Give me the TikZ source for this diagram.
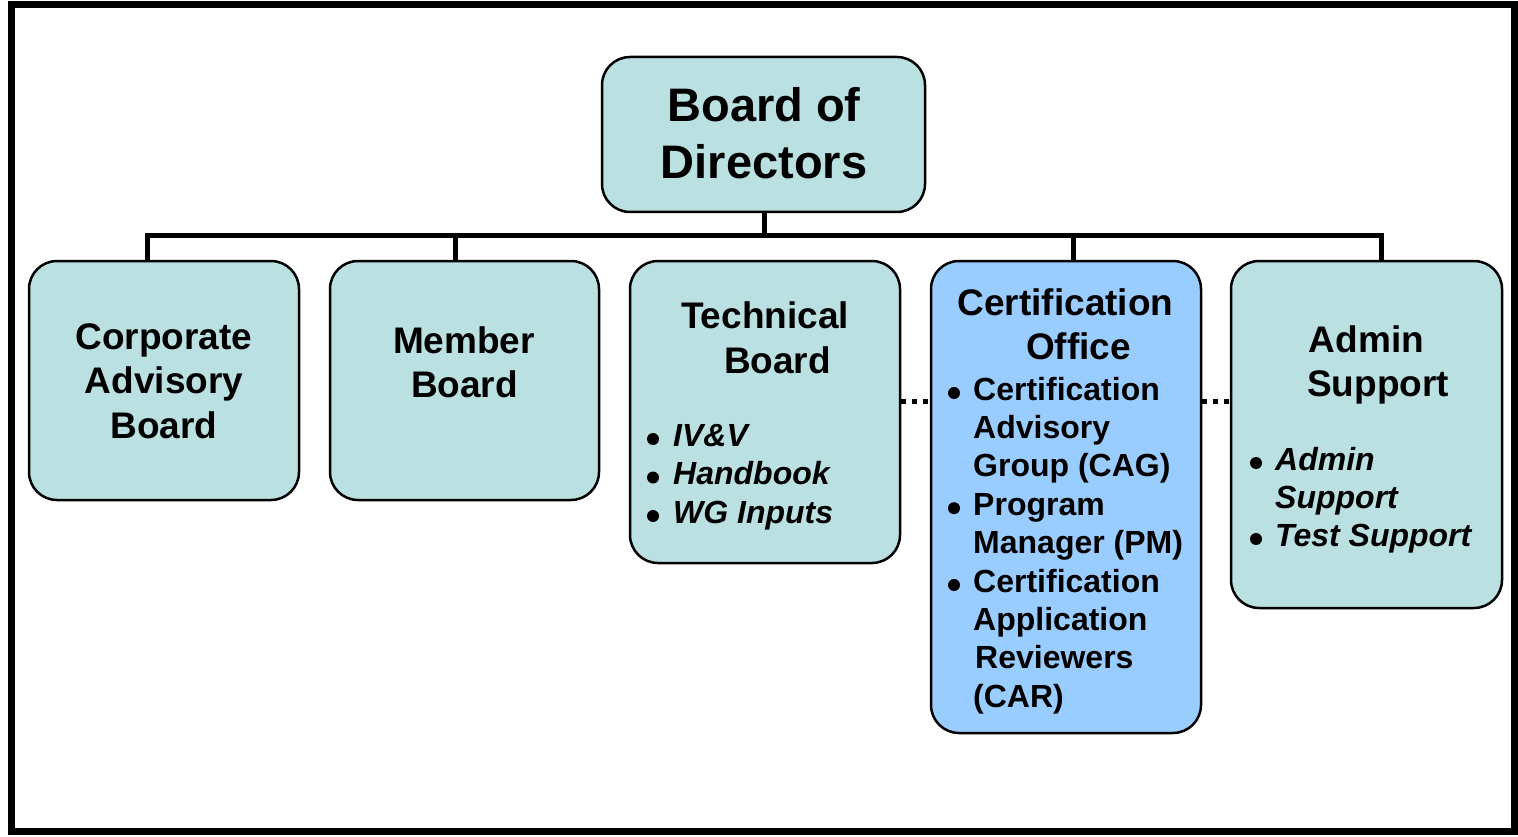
\documentclass[tikz,border=0pt]{standalone}
\usepackage{fontspec}
\setmainfont{Liberation Sans}
\definecolor{tealfill}{RGB}{186,224,226}
\definecolor{bluefill}{RGB}{153,204,255}
\tikzset{
 box/.style={draw=black, line width=2.5pt, rounded corners=28pt, inner sep=0pt, fill=tealfill},
 conn/.style={line width=5pt, line join=miter},
 dotconn/.style={line width=5pt, dash pattern=on 5pt off 6pt},
 big/.style={font=\fontsize{47pt}{57pt}\selectfont\bfseries, anchor=base, inner sep=0pt},
 ttl/.style={font=\fontsize{37pt}{44pt}\selectfont\bfseries, anchor=base, inner sep=0pt},
 itm/.style={font=\fontsize{32pt}{38pt}\selectfont\bfseries, anchor=base west, inner sep=0pt},
 itmi/.style={font=\fontsize{32pt}{38pt}\selectfont\bfseries\itshape, anchor=base west, inner sep=0pt},
 bullet/.style={fill=black},
}
\begin{document}
\begin{tikzpicture}[x=1pt,y=-1pt]
\useasboundingbox (0,0) rectangle (1518,837);
% outer frame
\draw[line width=7pt] (11.5,4.5) rectangle (1514.5,831.5);

% boxes
\node[box, minimum width=323pt, minimum height=155pt] (bod) at (763.5,134.5) {};
\node[box, minimum width=270pt, minimum height=239pt] (cab) at (164,380.5) {};
\node[box, minimum width=269pt, minimum height=239pt] (mb) at (464.5,380.5) {};
\node[box, minimum width=270pt, minimum height=302pt] (tb) at (765,412) {};
\node[box, fill=bluefill, minimum width=270pt, minimum height=472pt] (co) at (1066,497) {};
\node[box, minimum width=271pt, minimum height=347pt] (as) at (1366.5,434.5) {};

% connectors
\coordinate (d1) at (147,236);
\coordinate (d2) at (455,236);
\coordinate (d3) at (764.5,236);
\coordinate (d4) at (1073,236);
\coordinate (d5) at (1381,236);
\draw[conn] (d1 |- cab.north) -- (d1) -- (d5) -- (d5 |- as.north);
\draw[conn] (d2) -- (d2 |- mb.north);
\draw[conn] (d4) -- (d4 |- co.north);
\draw[conn] (d3 |- bod.south) -- (d3);
\coordinate (lvl) at (0,401);
\draw[dotconn] (tb.east |- lvl) -- (co.west |- lvl);
\draw[dotconn] (co.east |- lvl) -- (as.west |- lvl);

% Board of Directors
\node[big] (bod1) at (764,122) {Board of};
\node[big] (bod2) at (764,179) {Directors};

% Corporate Advisory Board
\node[ttl] (cab1) at (164,349) {Corporate};
\node[ttl] (cab2) at (164,393.5) {Advisory};
\node[ttl] (cab3) at (164,438) {Board};

% Member Board
\node[ttl] (mb1) at (464,353) {Member};
\node[ttl] (mb2) at (464.5,397) {Board};

% Technical Board
\node[ttl] (tb1) at (765,328) {Technical};
\node[ttl] (tb2) at (777.5,373) {Board};
\node[itmi] (tb3) at (673,446) {IV\&V};
\node[itmi] (tb4) at (673,484.5) {Handbook};
\node[itmi] (tb5) at (673,523) {WG Inputs};
\foreach \n in {tb3,tb4,tb5}
  \fill[bullet] ([xshift=-20pt,yshift=7pt]\n.base west) circle (6pt);

% Certification Office
\node[ttl] (co1) at (1065.5,315) {Certification};
\node[ttl] (co2) at (1078.5,359) {Office};
\node[itm] (co3) at (973,400) {Certification};
\node[itm] (co4) at (973,438.4) {Advisory};
\node[itm] (co5) at (973,476.8) {Group (CAG)};
\node[itm] (co6) at (973,515.2) {Program};
\node[itm] (co7) at (973,553.6) {Manager (PM)};
\node[itm] (co8) at (973,592) {Certification};
\node[itm] (co9) at (973,630.4) {Application};
\node[itm] (co10) at (975,668.8) {Reviewers};
\node[itm] (co11) at (973,707.2) {(CAR)};
\foreach \n in {co3,co6,co8}
  \fill[bullet] ([xshift=-19pt,yshift=7pt]\n.base west) circle (6pt);

% Admin Support
\node[ttl] (as1) at (1366.5,352) {Admin};
\node[ttl] (as2) at (1378,396) {Support};
\node[itmi] (as3) at (1275,470) {Admin};
\node[itmi] (as4) at (1275,508) {Support};
\node[itmi] (as5) at (1275,546) {Test Support};
\foreach \n in {as3,as5}
  \fill[bullet] ([xshift=-19pt,yshift=7pt]\n.base west) circle (6pt);
\end{tikzpicture}
\end{document}
